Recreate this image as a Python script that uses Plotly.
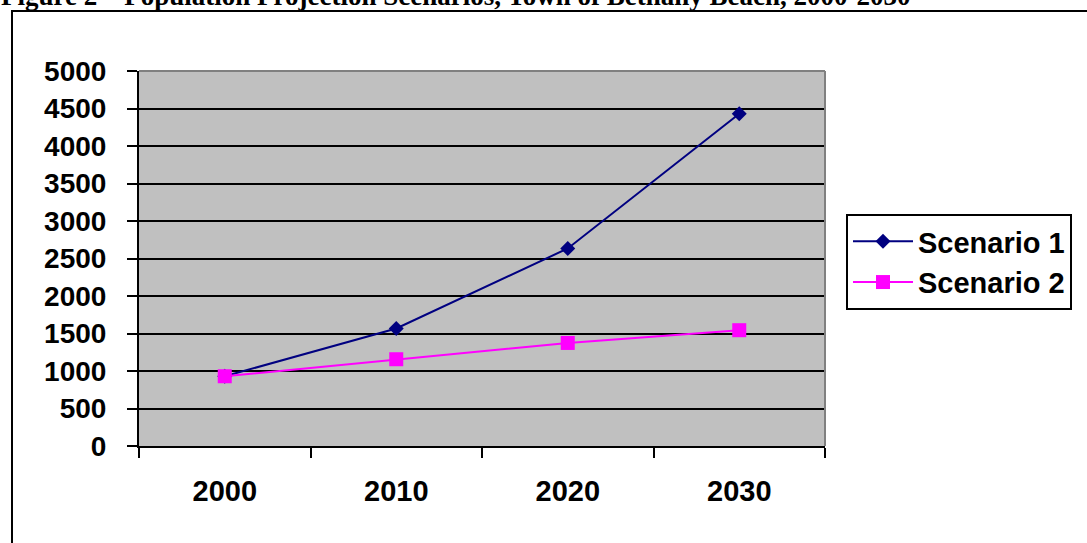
import plotly.graph_objects as go

years = ["2000", "2010", "2020", "2030"]
scenario1 = [930, 1567, 2634, 4430]
scenario2 = [930, 1157, 1374, 1544]
y_ticks = [0, 500, 1000, 1500, 2000, 2500, 3000, 3500, 4000, 4500, 5000]
title_text = "Figure 2 \u2013 Population Projection Scenarios, Town of Bethany Beach, 2000-2030"

W, H = 1087, 543
L = 139
T = 71
R = W - 825
B = H - 446
PW, PH = W - L - R, H - T - B


def px(xp):
    return (xp - L) / PW


def py(yp):
    return (H - B - yp) / PH


fig = go.Figure()
fig.add_trace(go.Scatter(
    x=years, y=scenario1, name="Scenario 1", mode="lines+markers",
    line=dict(color="#000080", width=2),
    marker=dict(symbol="diamond", size=11.5, color="#000080"),
))
fig.add_trace(go.Scatter(
    x=years, y=scenario2, name="Scenario 2", mode="lines+markers",
    line=dict(color="#FF00FF", width=2),
    marker=dict(symbol="square", size=14, color="#FF00FF"),
))

yfont = dict(family="Liberation Sans, Arial, sans-serif", size=28, color="black", weight="bold")
xfont = dict(family="Liberation Sans, Arial, sans-serif", size=29, color="black", weight="bold")

fig.update_layout(
    width=W, height=H,
    margin=dict(l=L, r=R, t=T, b=B, pad=0),
    paper_bgcolor="white",
    plot_bgcolor="#C0C0C0",
    showlegend=True,
    legend=dict(
        x=px(846), y=py(214), xanchor="left", yanchor="top",
        bordercolor="black", borderwidth=2, bgcolor="white",
        font=dict(family="Liberation Sans, Arial, sans-serif", size=29, color="black", weight="bold"),
        itemwidth=60,
    ),
    xaxis=dict(
        type="category", range=[-0.5, 3.5], tickson="boundaries",
        ticks="outside", ticklen=10, tickwidth=2, tickcolor="black",
        showline=True, linecolor="black", linewidth=2,
        showgrid=False, zeroline=False,
        tickfont=xfont, ticklabelstandoff=18,
    ),
    yaxis=dict(
        range=[0, 5000], tickvals=y_ticks,
        ticks="outside", ticklen=10, tickwidth=2, tickcolor="black",
        showline=True, linecolor="black", linewidth=2,
        showgrid=True, gridcolor="black", gridwidth=2,
        zeroline=False,
        tickfont=yfont, ticklabelstandoff=15,
    ),
    shapes=[
        dict(type="line", xref="paper", yref="paper", x0=0, x1=1, y0=1, y1=1,
             line=dict(color="#808080", width=2)),
        dict(type="line", xref="paper", yref="paper", x0=1, x1=1, y0=0, y1=1,
             line=dict(color="#808080", width=2)),
        dict(type="rect", xref="paper", yref="paper",
             x0=px(12), x1=px(1110), y0=py(11), y1=py(570),
             line=dict(color="black", width=2), fillcolor="rgba(0,0,0,0)"),
    ],
    annotations=[
        dict(text="<b>" + title_text + "</b>", xref="paper", yref="paper",
             x=px(-1), y=py(13), xanchor="left", yanchor="bottom", showarrow=False,
             font=dict(family="Liberation Serif, Times New Roman, serif", size=27, color="black")),
    ],
)

fig.write_html(
    "out.html",
    config={"displayModeBar": False},
    post_script="document.body.style.margin='0';document.body.style.overflow='hidden';",
)
